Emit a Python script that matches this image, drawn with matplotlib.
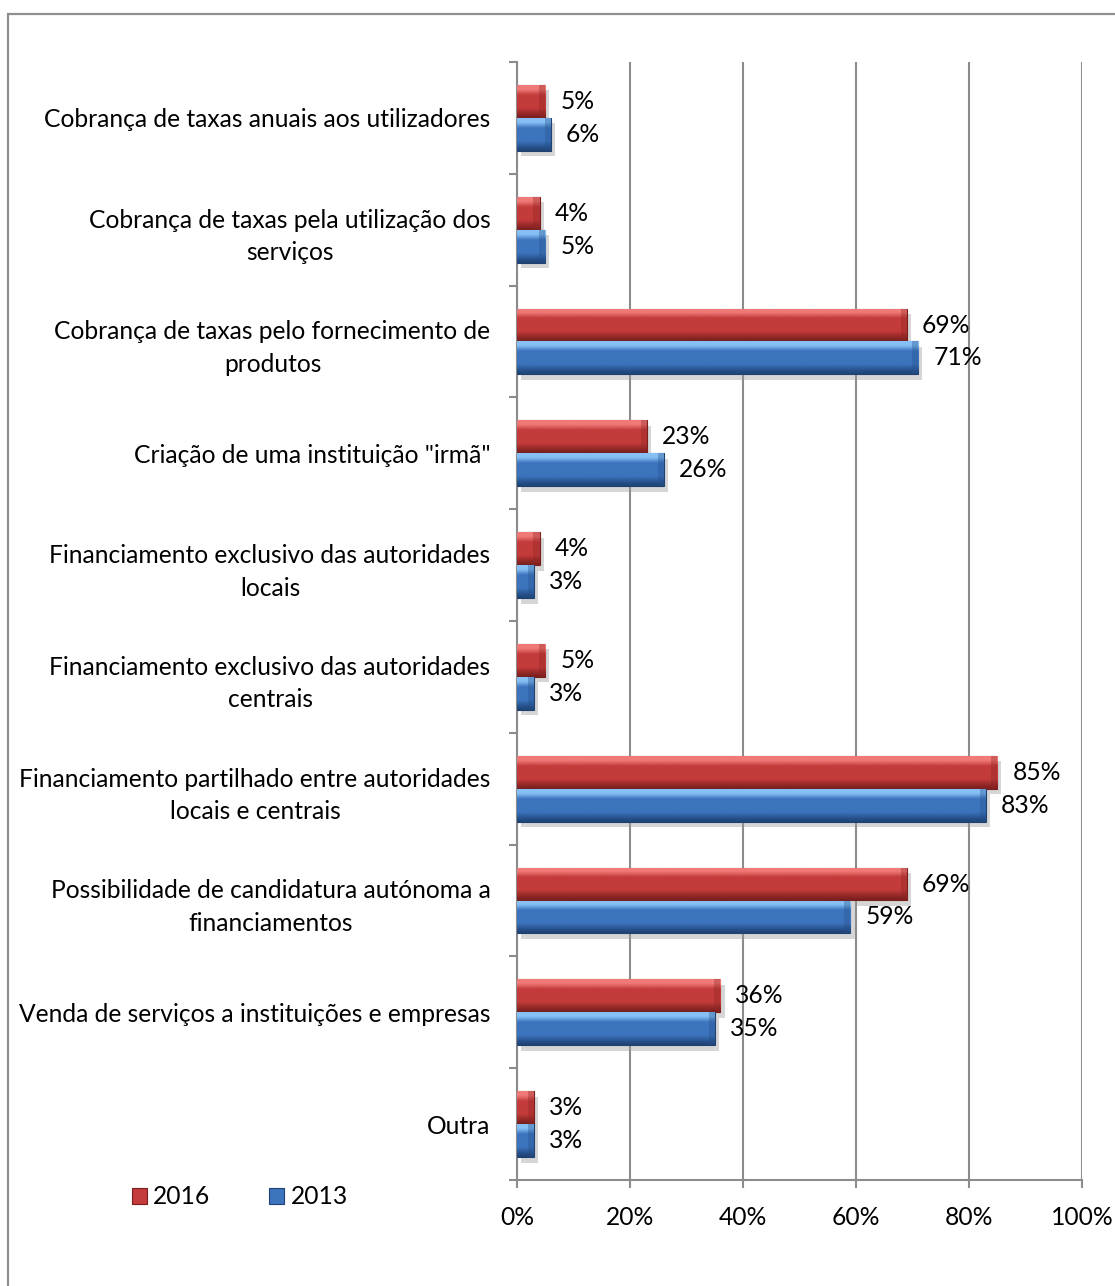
import numpy as np
import matplotlib
matplotlib.use("Agg")
import matplotlib.pyplot as plt
from matplotlib.colors import LinearSegmentedColormap
from matplotlib.patches import Patch, Rectangle
import matplotlib.patheffects as pe

plt.rcParams['font.family'] = ['Lato', 'DejaVu Sans']

categories = [
    "Cobrança de taxas anuais aos utilizadores",
    "Cobrança de taxas pela utilização dos\nserviços",
    "Cobrança de taxas pelo fornecimento de\nprodutos",
    "Criação de uma instituição \"irmã\"",
    "Financiamento exclusivo das autoridades\nlocais",
    "Financiamento exclusivo das autoridades\ncentrais",
    "Financiamento partilhado entre autoridades\nlocais e centrais",
    "Possibilidade de candidatura autónoma a\nfinanciamentos",
    "Venda de serviços a instituições e empresas",
    "Outra",
]
values_2016 = [5, 4, 69, 23, 4, 5, 85, 69, 36, 3]
values_2013 = [6, 5, 71, 26, 3, 3, 83, 59, 35, 3]
series_names = ["2016", "2013"]
x_ticks = [0, 20, 40, 60, 80, 100]
x_tick_labels = ["0%", "20%", "40%", "60%", "80%", "100%"]

FS = 17.7
GRID = "#8c8c8c"
RED = dict(light="#f07a78", base="#c33b3a", dark="#8e2625", edge="#7a1f1e")
BLUE = dict(light="#86c0f5", base="#3c74bd", dark="#26508a", edge="#1f4273")

fig = plt.figure(figsize=(11.15, 12.86), dpi=100)
W, H = 1115, 1286
ax = fig.add_axes([517 / W, 1 - 1180 / H, 565 / W, 1118 / H])

n = len(categories)
y = np.arange(n)
bh = 0.295

def bevel(ax, patch, c):
    x0, y0 = patch.get_x(), patch.get_y()
    w, h = patch.get_width(), patch.get_height()
    grad = np.linspace(0, 1, 64).reshape(-1, 1)
    cmap = LinearSegmentedColormap.from_list(
        "b", [(0, c["light"]), (0.12, c["light"]), (0.3, c["base"]),
              (0.7, c["base"]), (0.9, c["dark"]), (1, c["edge"])])
    im = ax.imshow(grad, cmap=cmap, extent=(x0, x0 + w, y0 + h, y0),
                   aspect="auto", origin="upper", zorder=3,
                   interpolation="bilinear")
    im.set_clip_path(patch)
    # darker facet at the bar end
    end = Rectangle((x0 + w - 0.011, y0), 0.011, h, facecolor=c["dark"],
                    alpha=0.35, edgecolor="none", zorder=3.5)
    ax.add_patch(end)
    end.set_clip_path(patch)

shadow = [pe.SimplePatchShadow(offset=(3, -4), shadow_rgbFace="#9a9a9a", alpha=0.4),
          pe.Normal()]

for vals, off, c in [(values_2016, -bh / 2, RED), (values_2013, bh / 2, BLUE)]:
    bars = ax.barh(y + off, np.array(vals) / 100, height=bh, color=c["base"],
                   edgecolor=c["edge"], linewidth=0.8, zorder=3,
                   path_effects=shadow)
    for b, v in zip(bars, vals):
        bevel(ax, b, c)
        ax.annotate(f"{v}%", xy=(v / 100, b.get_y() + b.get_height() / 2),
                    xytext=(15, 0), textcoords="offset pixels",
                    ha="left", va="center", fontsize=FS, color="black",
                    zorder=5)

ax.set_xlim(0, 1)
ax.set_ylim(n - 0.5, -0.5)

ax.set_xticks(np.array(x_ticks) / 100)
ax.set_xticklabels(x_tick_labels, fontsize=FS)
ax.tick_params(axis="x", length=5.8, width=1.5, color=GRID, pad=13)
ax.xaxis.grid(True, color=GRID, linewidth=1.5, zorder=0)
ax.set_axisbelow(True)

ax.set_yticks(np.arange(n + 1) - 0.5)
ax.set_yticklabels([])
ax.set_yticks(y, minor=True)
ax.set_yticklabels(categories, minor=True, fontsize=FS, linespacing=1.5,
                   multialignment="center")
ax.tick_params(axis="y", which="major", length=5.5, width=1.5, color=GRID)
ax.tick_params(axis="y", which="minor", length=0, pad=19)

for s in ["top", "right"]:
    ax.spines[s].set_visible(False)
for s in ["left", "bottom"]:
    ax.spines[s].set_color(GRID)
    ax.spines[s].set_linewidth(1.5)

# legend
def sq(c):
    return Patch(facecolor=c["base"], edgecolor=c["edge"], linewidth=0.8)

fig.legend([sq(RED), sq(BLUE)], series_names, loc="center left",
           bbox_to_anchor=(132 / W, 1 - 1197 / H), ncol=2, frameon=False,
           fontsize=FS, handlelength=0.61, handleheight=0.61,
           handletextpad=0.25, columnspacing=2.4, borderpad=0,
           borderaxespad=0)

# chart area border
fig.add_artist(Rectangle((7.5 / W, -0.05), 1.2, 1.05 - 14 / H,
                         transform=fig.transFigure, facecolor="none",
                         edgecolor="#8f8f8f", linewidth=1.6))

fig.savefig("out.png", dpi=100)
